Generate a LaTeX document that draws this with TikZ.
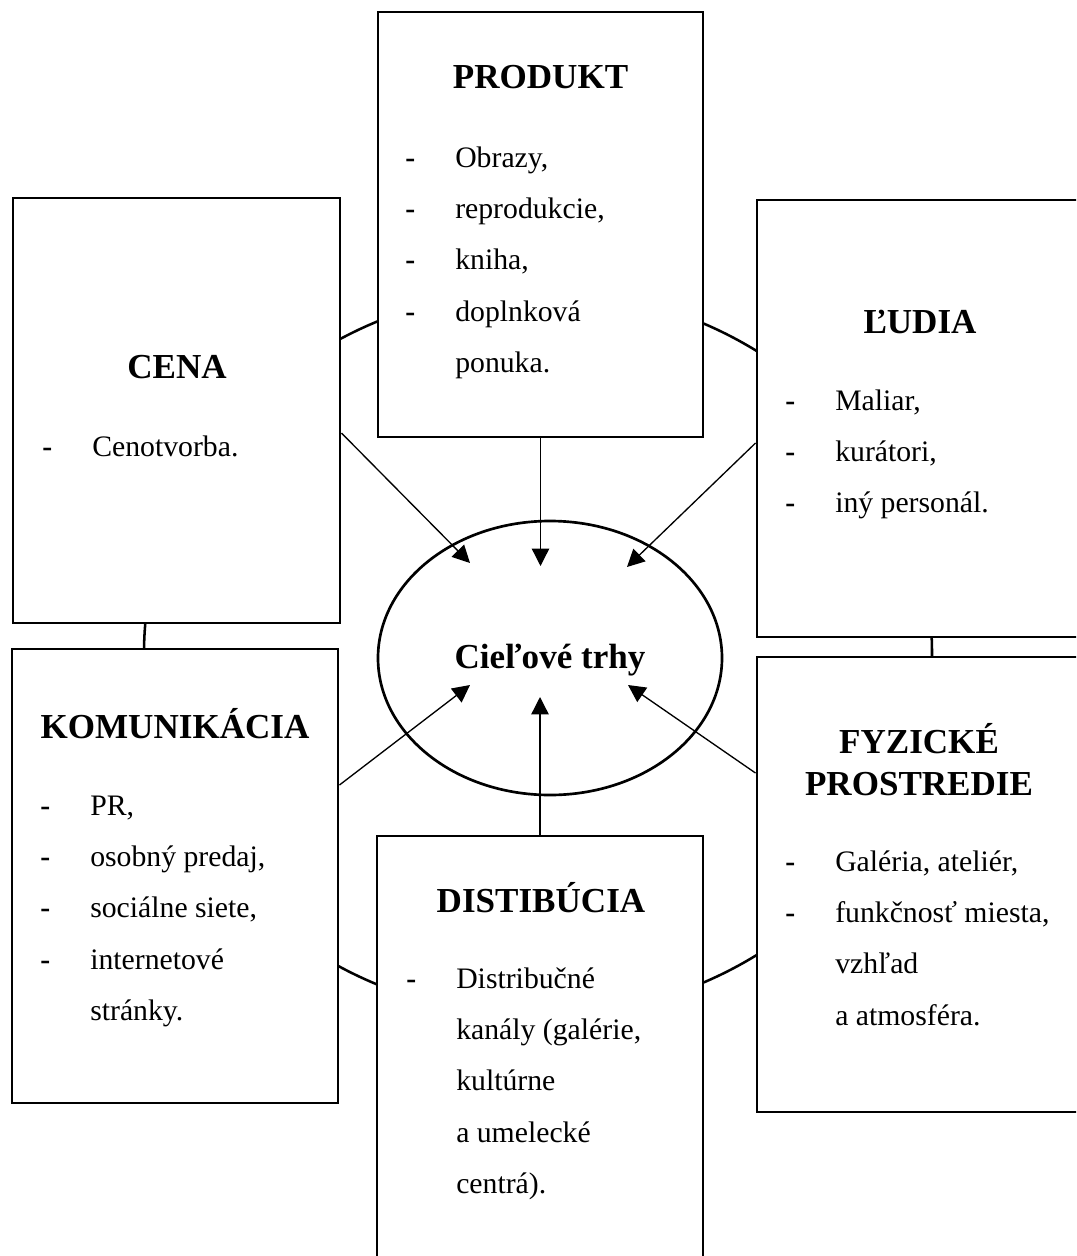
\documentclass[tikz,border=0pt]{standalone}
\usepackage{fontspec}
\setmainfont{Liberation Serif}
\usetikzlibrary{arrows.meta,shapes.geometric}
\newcommand{\dsh}{\textbf{-}}
\begin{document}
\begin{tikzpicture}[x=0.75pt,y=-0.75pt,
  box/.style={draw,line width=2.2pt,fill=white,rectangle,inner sep=0pt},
  ttl/.style={anchor=base,inner sep=0pt,align=center,font=\fontsize{26.3}{31.5}\selectfont\bfseries},
  lst/.style={anchor=base west,inner sep=0pt,font=\fontsize{22.3}{38.6}\selectfont},
  arr/.style={line width=1pt,-{Triangle[length=13pt,width=13pt]}},
]
\clip (0,0) rectangle (1076,1256);
\fill[white] (0,0) rectangle (1076,1256);
% outer ring
\node[ellipse,draw,line width=1.9pt,minimum width=591pt,minimum height=544.5pt,inner sep=0pt] (ring) at (538,653) {};
% boxes
\node[box,minimum width=245.25pt,minimum height=318.75pt] (cena) at (176.5,410.5) {};
\node[box,minimum width=243.75pt,minimum height=318.75pt] (produkt) at (540.5,224.5) {};
\node[box,minimum width=244.5pt,minimum height=327.75pt] (ludia) at (920,418.5) {};
\node[box,minimum width=244.5pt,minimum height=340.5pt] (kom) at (175,876) {};
\node[box,minimum width=244.5pt,minimum height=341.25pt] (fyz) at (920,884.5) {};
\node[box,minimum width=244.5pt,minimum height=340.5pt] (dist) at (540,1063) {};
% centre
\node[ellipse,draw,line width=2pt,minimum width=258pt,minimum height=205.5pt,inner sep=0pt] (ct) at (550,658) {};
\node[ttl] (cttext) at (550,668) {Cieľové trhy};
% titles
\node[ttl] (tprod) at (540.5,89) {PRODUKT};
\node[ttl] (tcena) at (177,378) {CENA};
\node[ttl] (tludia) at (920,333) {ĽUDIA};
\node[ttl] (tkom) at (175,738) {KOMUNIKÁCIA};
\node[ttl] (tfyz1) at (919,753) {FYZICKÉ};
\node[ttl] (tfyz2) at (919,795) {PROSTREDIE};
\node[ttl] (tdist) at (541,912) {DISTIBÚCIA};
% lists
\node[lst] (lprod) at (405,167) {\begin{tabular}[t]{@{}p{37.5pt}@{}l@{}}
\dsh&Obrazy,\\ \dsh&reprodukcie,\\ \dsh&kniha,\\ \dsh&doplnková\\ &ponuka.\end{tabular}};
\node[lst] (lcena) at (42,456) {\begin{tabular}[t]{@{}p{37.5pt}@{}l@{}}
\dsh&Cenotvorba.\end{tabular}};
\node[lst] (lludia) at (785,410) {\begin{tabular}[t]{@{}p{37.5pt}@{}l@{}}
\dsh&Maliar,\\ \dsh&kurátori,\\ \dsh&iný personál.\end{tabular}};
\node[lst] (lkom) at (40,815) {\begin{tabular}[t]{@{}p{37.5pt}@{}l@{}}
\dsh&PR,\\ \dsh&osobný predaj,\\ \dsh&sociálne siete,\\ \dsh&internetové\\ &stránky.\end{tabular}};
\node[lst] (lfyz) at (785,871) {\begin{tabular}[t]{@{}p{37.5pt}@{}l@{}}
\dsh&Galéria, ateliér,\\ \dsh&funkčnosť miesta,\\ &vzhľad\\ &a atmosféra.\end{tabular}};
\node[lst] (ldist) at (406,988) {\begin{tabular}[t]{@{}p{37.5pt}@{}l@{}}
\dsh&Distribučné\\ &kanály (galérie,\\ &kultúrne\\ &a umelecké\\ &centrá).\end{tabular}};
% arrow tips
\coordinate (tc) at (470,563);
\coordinate (tp) at (540.5,566);
\coordinate (tl) at (627,567);
\coordinate (tk) at (470,685);
\coordinate (td) at (540,697);
\coordinate (tf) at (628,685);
\draw[arr] ([yshift=-16.9pt]cena.east) -- (tc);
\draw[arr] (produkt.south) -- (tp);
\draw[arr] ([yshift=-18.4pt]ludia.west) -- (tl);
\draw[arr] ([yshift=68.25pt]kom.east) -- (tk);
\draw[arr] (dist.north) -- (td);
\draw[arr] ([yshift=83.6pt]fyz.west) -- (tf);
\end{tikzpicture}
\end{document}
